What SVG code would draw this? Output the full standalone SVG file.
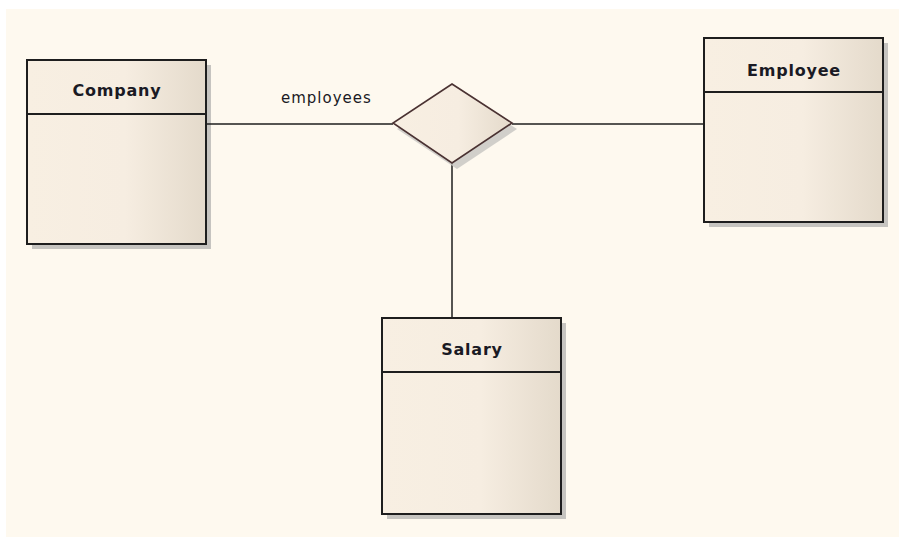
<svg xmlns="http://www.w3.org/2000/svg" width="899" height="537" viewBox="0 0 899 537">
  <defs>
    <linearGradient id="fillG" x1="0" y1="0" x2="1" y2="0">
      <stop offset="0" stop-color="#f8efe2"/>
      <stop offset="0.55" stop-color="#f6ede1"/>
      <stop offset="1" stop-color="#e4dacb"/>
    </linearGradient>
    <style>
      .shadow { fill: #c6c4c0; }
      .box { fill: url(#fillG); stroke: #1e1e1e; stroke-width: 2; }
      .sep { stroke: #1e1e1e; stroke-width: 2; }
      .title { font-family: "DejaVu Sans", Verdana, sans-serif; font-weight: bold; font-size: 16px; letter-spacing: 0.8px; fill: #1a1a24; text-anchor: middle; }
      .conn { stroke: #1e1e1e; stroke-width: 1.5; fill: none; }
      .lbl { font-family: "DejaVu Sans", Verdana, sans-serif; font-size: 15px; letter-spacing: 1px; fill: #1a1a24; }
      .dia { fill: url(#fillG); stroke: #4a3232; stroke-width: 1.6; }
    </style>
  </defs>
  <rect x="0" y="0" width="899" height="537" fill="#ffffff"/>
  <rect x="6" y="9" width="893" height="528" fill="#fef9ef"/>

  <g id="company">
    <rect class="shadow" x="32" y="65" width="179" height="184"/>
    <rect class="box" x="27" y="60" width="179" height="184"/>
    <line class="sep" x1="27" y1="114" x2="206" y2="114"/>
    <text class="title" x="117" y="96">Company</text>
  </g>

  <g id="employee">
    <rect class="shadow" x="709" y="43" width="179" height="184"/>
    <rect class="box" x="704" y="38" width="179" height="184"/>
    <line class="sep" x1="704" y1="92" x2="883" y2="92"/>
    <text class="title" x="794" y="76">Employee</text>
  </g>

  <g id="salary">
    <rect class="shadow" x="387" y="323" width="179" height="196"/>
    <rect class="box" x="382" y="318" width="179" height="196"/>
    <line class="sep" x1="382" y1="372" x2="561" y2="372"/>
    <text class="title" x="472" y="355">Salary</text>
  </g>

  <g id="connectors">
    <line class="conn" x1="207" y1="124" x2="393" y2="124"/>
    <line class="conn" x1="512" y1="124" x2="703" y2="124"/>
    <line class="conn" x1="452" y1="163" x2="452" y2="317"/>
    <text class="lbl" x="281" y="103">employees</text>
  </g>

  <g id="association">
    <polygon class="shadow" points="457,90 517,129 457,169 397,129" opacity="0.8"/>
    <polygon class="dia" points="452,84 512,123 452,163 393,123"/>
  </g>
</svg>
